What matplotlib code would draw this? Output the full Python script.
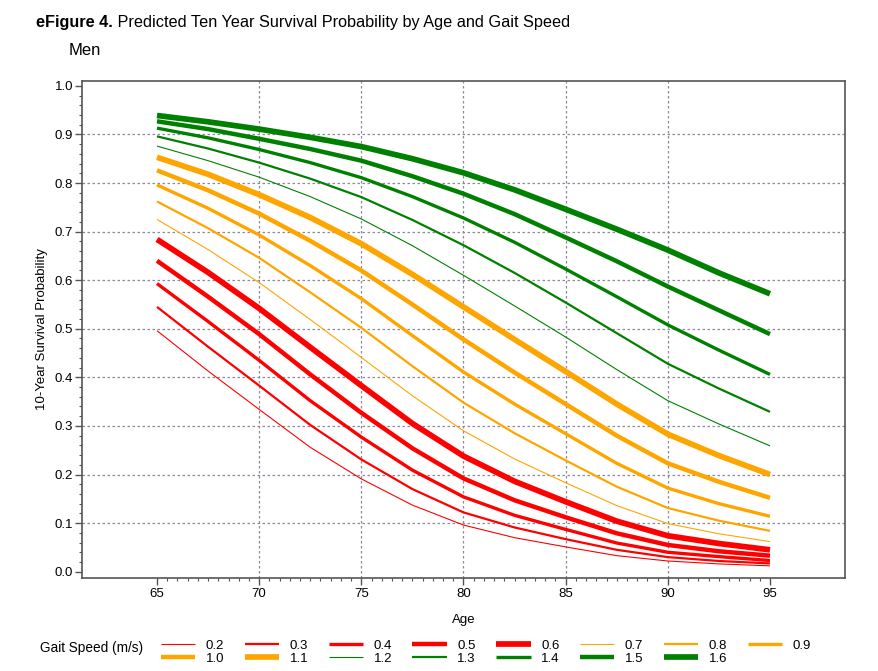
import numpy as np
import matplotlib
matplotlib.use("Agg")
import matplotlib.pyplot as plt
from matplotlib.ticker import MultipleLocator, FixedLocator

plt.rcParams["font.family"] = ["Liberation Sans", "DejaVu Sans"]

# Ages at which the curves were read
ages = [65, 67.5, 70, 72.5, 75, 77.5, 80, 82.5, 85, 87.5, 90, 92.5, 95]

# 10-year survival probability by gait speed (m/s)
surv_02 = [0.496, 0.413, 0.334, 0.256, 0.191, 0.137, 0.096, 0.070, 0.051, 0.033, 0.022, 0.016, 0.012]
surv_03 = [0.545, 0.463, 0.383, 0.302, 0.231, 0.170, 0.122, 0.091, 0.067, 0.045, 0.030, 0.022, 0.017]
surv_04 = [0.593, 0.515, 0.435, 0.352, 0.277, 0.209, 0.154, 0.116, 0.087, 0.059, 0.040, 0.031, 0.023]
surv_05 = [0.640, 0.566, 0.489, 0.406, 0.327, 0.254, 0.192, 0.147, 0.112, 0.079, 0.055, 0.042, 0.033]
surv_06 = [0.684, 0.616, 0.542, 0.462, 0.383, 0.305, 0.238, 0.186, 0.144, 0.104, 0.074, 0.058, 0.045]
surv_07 = [0.725, 0.663, 0.595, 0.519, 0.441, 0.362, 0.290, 0.232, 0.183, 0.136, 0.099, 0.078, 0.062]
surv_08 = [0.762, 0.707, 0.646, 0.575, 0.502, 0.423, 0.348, 0.285, 0.229, 0.175, 0.131, 0.105, 0.084]
surv_09 = [0.796, 0.748, 0.693, 0.630, 0.562, 0.486, 0.411, 0.345, 0.284, 0.223, 0.172, 0.140, 0.114]
surv_10 = [0.826, 0.785, 0.737, 0.681, 0.620, 0.550, 0.478, 0.410, 0.345, 0.280, 0.223, 0.185, 0.152]
surv_11 = [0.853, 0.818, 0.776, 0.729, 0.675, 0.612, 0.545, 0.478, 0.412, 0.345, 0.283, 0.239, 0.200]
surv_12 = [0.876, 0.846, 0.812, 0.772, 0.726, 0.671, 0.610, 0.547, 0.483, 0.416, 0.352, 0.304, 0.259]
surv_13 = [0.896, 0.871, 0.842, 0.809, 0.771, 0.724, 0.672, 0.615, 0.554, 0.491, 0.428, 0.377, 0.329]
surv_14 = [0.913, 0.893, 0.869, 0.842, 0.811, 0.772, 0.728, 0.678, 0.623, 0.566, 0.508, 0.456, 0.406]
surv_15 = [0.927, 0.911, 0.891, 0.870, 0.846, 0.814, 0.778, 0.736, 0.688, 0.639, 0.587, 0.538, 0.489]
surv_16 = [0.939, 0.926, 0.911, 0.894, 0.875, 0.850, 0.821, 0.786, 0.746, 0.705, 0.662, 0.615, 0.572]

speed_labels = ["0.2", "0.3", "0.4", "0.5", "0.6", "0.7", "0.8", "0.9",
                "1.0", "1.1", "1.2", "1.3", "1.4", "1.5", "1.6"]

series = [surv_02, surv_03, surv_04, surv_05, surv_06, surv_07, surv_08, surv_09,
          surv_10, surv_11, surv_12, surv_13, surv_14, surv_15, surv_16]

# colour and width go in groups of five: red, orange, green
group_colors = ["#ff0000", "#ffa500", "#008000"]
group_widths = [0.8, 1.6, 2.4, 3.2, 4.1]

fig = plt.figure(figsize=(8.79, 6.71), dpi=100)
ax = fig.add_axes([0.0933, 0.1386, 0.868, 0.7407])

handles = []
for i, (vals, lab) in enumerate(zip(series, speed_labels)):
    h, = ax.plot(ages, vals, color=group_colors[i // 5], lw=group_widths[i % 5],
                 solid_capstyle="butt", solid_joinstyle="round", label=lab)
    handles.append(h)

ax.set_xlim(61.33, 98.67)
ax.set_ylim(-0.013, 1.01)
ax.xaxis.set_major_locator(FixedLocator([65, 70, 75, 80, 85, 90, 95]))
ax.xaxis.set_minor_locator(FixedLocator(np.arange(65, 95.01, 0.5)))
ax.yaxis.set_major_locator(MultipleLocator(0.1))
ax.yaxis.set_minor_locator(MultipleLocator(0.02))
ax.set_yticklabels([f"{v:.1f}" for v in ax.get_yticks()])

# dotted reference grid (inner ticks only)
for x in [70, 75, 80, 85, 90]:
    ax.axvline(x, color="#8a8a9a", lw=0.9, ls=(0, (2, 2)), zorder=0)
for y in np.arange(0.1, 0.95, 0.1):
    ax.axhline(y, color="#8a8a9a", lw=0.9, ls=(0, (2, 2)), zorder=0)

for s in ax.spines.values():
    s.set_color("#555555")
    s.set_linewidth(1.2)
ax.tick_params(which="major", length=5, width=1, color="#555555", labelsize=9.5)
ax.tick_params(axis="y", which="major", pad=1.5)
ax.tick_params(axis="x", which="major", pad=2.5)
ax.tick_params(which="minor", length=2.5, width=0.8, color="#555555")

ax.set_xlabel("Age", fontsize=9.5, labelpad=10)
ax.set_ylabel("10-Year Survival Probability", fontsize=9.5, labelpad=5)

# title: bold label followed by plain text
t1 = fig.text(0.041, 0.967, "eFigure 4.", fontsize=11.7, fontweight="bold", va="center")
ax.annotate(" Predicted Ten Year Survival Probability by Age and Gait Speed",
            xy=(1, 0.5), xycoords=t1, va="center", fontsize=11.7,
            annotation_clip=False)
fig.text(0.078, 0.925, "Men", fontsize=12, va="center")

# legend filled row by row
order = [0, 8, 1, 9, 2, 10, 3, 11, 4, 12, 5, 13, 6, 14, 7]
fig.text(0.046, 0.035, "Gait Speed (m/s)", fontsize=9.8, va="center")
fig.legend([handles[k] for k in order], [speed_labels[k] for k in order],
           ncol=8, loc="center left", bbox_to_anchor=(0.174, 0.028),
           frameon=False, fontsize=9.5, handlelength=2.6, handletextpad=0.8,
           columnspacing=1.55, labelspacing=0.05, borderpad=0.1)

fig.savefig("out.png", dpi=100)
